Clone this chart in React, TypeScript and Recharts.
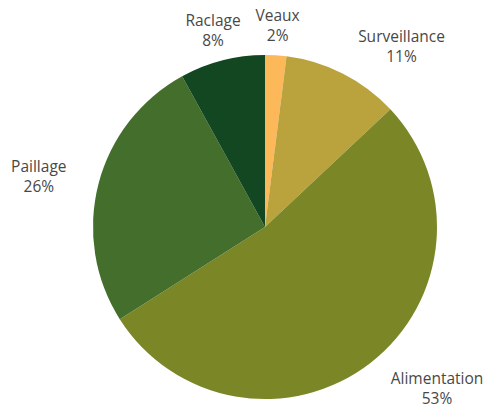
import React from 'react';
import { PieChart, Pie, Cell } from 'recharts';

// shares of working time, clockwise from 12 o'clock
const categories = ['Veaux', 'Surveillance', 'Alimentation', 'Paillage', 'Raclage'];
const shares = [2, 11, 53, 26, 8];
const sliceColors = ['#FDB85A', '#BAA23C', '#7B8627', '#446E2B', '#124722'];

const data = categories.map((name, i) => ({ name, value: shares[i] }));

const CX = 265;
const CY = 227;
const R = 172;
const RAD = Math.PI / 180;

// hand-tuned label offsets (px) relative to a point 45px outside the rim;
// the resulting point is the first line's baseline
const nudge: Record<string, [number, number]> = {
  Veaux: [-1, 11],
  Surveillance: [38, 8],
  Alimentation: [39, -14],
  Paillage: [-16, -1],
  Raclage: [2, 9],
};

const renderLabel = (props: any) => {
  const { cx, cy, midAngle, outerRadius, name, value } = props;
  const r = outerRadius + 45;
  const [dx, dy] = nudge[name] || [0, 0];
  const x = cx + r * Math.cos(-midAngle * RAD) + dx;
  const y = cy + r * Math.sin(-midAngle * RAD) + dy;
  return (
    <text
      x={x}
      y={y}
      textAnchor="middle"
      fill="#484848"
      fontSize={15.5}
      fontFamily="'Open Sans', sans-serif"
    >
      <tspan x={x} dy={0}>{name}</tspan>
      <tspan x={x} dy={20}>{`${value}%`}</tspan>
    </text>
  );
};

export default function App() {
  return (
    <div style={{ position: 'absolute', left: 0, top: 0, width: 488, height: 409, background: '#fff' }}>
      <PieChart width={488} height={409} margin={{ top: 0, right: 0, bottom: 0, left: 0 }}>
        <Pie
          data={data}
          dataKey="value"
          nameKey="name"
          cx={CX}
          cy={CY}
          outerRadius={R}
          startAngle={90}
          endAngle={-270}
          stroke="none"
          label={renderLabel}
          labelLine={false}
          isAnimationActive={false}
        >
          {data.map((d, i) => (
            <Cell key={d.name} fill={sliceColors[i]} />
          ))}
        </Pie>
      </PieChart>
    </div>
  );
}
